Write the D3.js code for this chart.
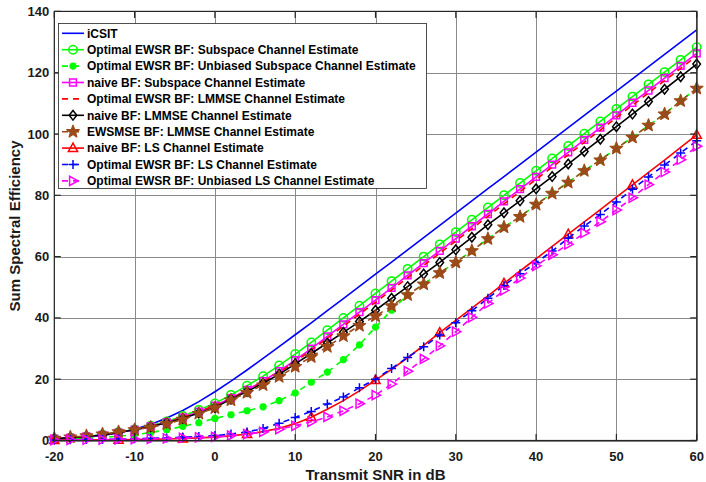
<!DOCTYPE html>
<html><head><meta charset="utf-8">
<script src="https://cdnjs.cloudflare.com/ajax/libs/d3/7.8.5/d3.min.js"></script>
<style>html,body{margin:0;padding:0;background:#fff;}svg{display:block;font-family:"Liberation Sans",Arial,sans-serif;}</style>
</head><body>
<svg id="chart" width="706" height="482"></svg>
<script>
// ---- data ----
const snr = [-20,-18,-16,-14,-12,-10,-8,-6,-4,-2,0,2,4,6,8,10,12,14,16,18,20,22,24,26,28,30,32,34,36,38,40,42,44,46,48,50,52,54,56,58,60];
const xTicks = [-20,-10,0,10,20,30,40,50,60];
const yTicks = [0,20,40,60,80,100,120,140];
const labels = [
  "iCSIT",
  "Optimal EWSR BF: Subspace Channel Estimate",
  "Optimal EWSR BF: Unbiased Subspace Channel Estimate",
  "naive BF: Subspace Channel Estimate",
  "Optimal EWSR BF: LMMSE Channel Estimate",
  "naive BF: LMMSE Channel Estimate",
  "EWSMSE BF: LMMSE Channel Estimate",
  "naive BF: LS Channel Estimate",
  "Optimal EWSR BF: LS Channel Estimate",
  "Optimal EWSR BF: Unbiased LS Channel Estimate"
];
const iCSIT = [0.45,0.70,1.08,1.65,2.49,3.67,5.26,7.31,9.80,12.69,15.91,19.37,23.0,26.77,30.6,34.5,38.4,42.4,46.3,50.3,54.3,58.2,62.2,66.2,70.2,74.2,78.2,82.2,86.1,90.1,94.1,98.1,102.1,106.1,110.1,114.0,118.0,122.0,126.0,130.0,134.0];
const ewsrSub = [0.6,0.9,1.3,1.9,2.7,3.6,4.8,6.2,8.0,10.0,12.1,14.9,17.9,21.0,24.5,28.2,32.0,36.0,40.0,44.0,48.0,52.0,56.0,60.0,64.0,68.0,72.0,76.0,80.0,84.0,88.0,92.0,96.1,100.1,104.1,108.2,112.2,116.2,120.2,124.2,128.3];
const ewsrUnbSub = [0.3,0.5,0.7,1.0,1.4,1.9,2.6,3.5,4.6,5.8,7.2,8.4,9.7,11.0,13.0,15.5,19.0,22.3,26.4,31.2,37.0,42.5,47.5,51.0,54.7,58.1,61.9,65.8,69.6,73.0,77.0,80.6,84.2,88.0,91.5,95.3,98.9,102.8,106.5,110.8,114.9];
const naiveSub = [0.6,0.9,1.3,1.8,2.6,3.5,4.6,5.9,7.5,9.4,11.4,13.8,16.5,19.4,22.6,26.2,30.0,34.0,37.9,41.9,45.8,49.8,53.9,57.9,61.9,65.9,69.9,73.9,78.0,82.0,86.0,90.0,94.0,98.1,102.1,106.1,110.2,114.2,118.2,122.2,126.3];
const ewsrLmmse = [0.6,0.9,1.3,1.8,2.6,3.5,4.6,5.9,7.5,9.4,11.4,13.7,16.3,19.1,22.2,25.7,29.5,33.4,37.3,41.2,45.1,49.1,53.1,57.1,61.1,65.1,69.1,73.1,77.2,81.2,85.2,89.2,93.2,97.3,101.3,105.3,109.4,113.4,117.4,121.4,125.5];
const naiveLmmse = [0.6,0.9,1.3,1.8,2.6,3.5,4.5,5.8,7.2,9.0,10.8,13.5,16.0,18.7,21.6,25.0,28.4,31.8,35.3,38.8,42.5,46.4,50.2,54.3,58.1,62.2,66.3,70.4,74.3,78.2,82.1,86.1,90.2,94.3,98.3,102.4,106.5,110.6,114.6,118.7,122.8];
const ewsmseLmmse = [0.7,1.1,1.5,2.1,2.8,3.5,4.3,5.4,6.9,8.8,10.6,13.2,15.6,18.1,20.8,24.1,27.3,30.6,34.1,37.5,40.6,43.9,47.5,51.0,54.7,58.1,61.9,65.8,69.6,73.0,77.0,80.6,84.2,88.0,91.5,95.3,98.9,102.8,106.5,110.8,114.9];
const naiveLs = [0.1,0.12,0.15,0.2,0.25,0.3,0.4,0.5,0.65,0.85,1.1,1.5,2.1,2.9,4.0,5.5,7.6,10.2,13.0,16.2,19.7,23.2,27.0,31.0,35.2,39.2,43.2,47.2,51.3,55.3,59.3,63.3,67.3,71.3,75.3,79.4,83.4,87.5,91.5,95.6,99.7];
const ewsrLs = [0.2,0.25,0.3,0.35,0.45,0.55,0.7,0.85,1.05,1.3,1.6,2.1,2.8,3.9,5.6,7.5,9.5,11.9,14.2,17.2,20.0,23.5,27.1,30.6,34.4,38.4,42.3,46.4,50.6,54.4,58.0,61.8,66.0,70.0,73.7,77.8,82.0,86.0,89.9,93.8,97.8];
const ewsrUnbLs = [0.15,0.2,0.25,0.3,0.35,0.45,0.55,0.7,0.85,1.0,1.2,1.6,2.1,2.8,3.7,4.8,6.1,7.7,9.7,12.0,14.8,18.4,22.6,26.6,30.9,35.5,40.2,44.7,49.0,53.0,57.0,60.6,64.0,67.7,71.4,75.2,79.2,83.5,87.6,91.6,96.0];

// ---- styles ----
const series = [
  {vals:iCSIT,       color:"#0000ff", dash:null,  marker:null,      every:1},
  {vals:ewsrSub,     color:"#00ff00", dash:null,  marker:"circle",  every:1},
  {vals:ewsrUnbSub,  color:"#00ff00", dash:"6,5", marker:"asterisk",every:1},
  {vals:naiveSub,    color:"#ff00ff", dash:null,  marker:"square",  every:1},
  {vals:ewsrLmmse,   color:"#ff0000", dash:"6,5", marker:null,      every:1},
  {vals:naiveLmmse,  color:"#000000", dash:null,  marker:"diamond", every:1},
  {vals:ewsmseLmmse, color:"#9c4a1a", dash:"6,5", marker:"star",    every:1},
  {vals:naiveLs,     color:"#ff0000", dash:null,  marker:"triangle",every:4},
  {vals:ewsrLs,      color:"#0000ff", dash:"6,5", marker:"plus",    every:1},
  {vals:ewsrUnbLs,   color:"#ff00ff", dash:"6,5", marker:"rtri",    every:1}
];
series.forEach((s,i)=>s.label=labels[i]);

const svg = d3.select("#chart");
const L=54.3, R=696.7, T=11.4, B=440.5;
const x = d3.scaleLinear().domain([-20,60]).range([L,R]);
const y = d3.scaleLinear().domain([0,140]).range([B,T]);

// grid
const g = svg.append("g");
g.selectAll(".vg").data(xTicks).join("line")
  .attr("x1",d=>Math.round(x(d))+0.5).attr("x2",d=>Math.round(x(d))+0.5)
  .attr("y1",T).attr("y2",B).attr("stroke","#8a8a8a").attr("stroke-width",1);
g.selectAll(".hg").data(yTicks).join("line")
  .attr("y1",d=>Math.round(y(d))+0.5).attr("y2",d=>Math.round(y(d))+0.5)
  .attr("x1",L).attr("x2",R).attr("stroke","#8a8a8a").attr("stroke-width",1);

function markerPath(type){
  switch(type){
    case "circle": return d3.symbol(d3.symbolCircle, Math.PI*4.2*4.2)();
    case "square": return "M-3.4,-3.4H3.4V3.4H-3.4Z";
    case "diamond": return "M0,-4.8L3.8,0L0,4.8L-3.8,0Z";
    case "triangle": return "M0,-5L4.6,3.4H-4.6Z";
    case "rtri": return "M5,0L-3.4,-4.6V4.6Z";
    case "plus": return "M-4.5,0H4.5M0,-4.5V4.5";
    case "asterisk": return "M-3.6,0H3.6M0,-3.6V3.6M-2.6,-2.6L2.6,2.6M-2.6,2.6L2.6,-2.6";
    case "star": {
      const pts=[]; const Ro=6.6, Ri=2.8;
      for(let k=0;k<10;k++){const r=k%2?Ri:Ro; const a=-Math.PI/2+k*Math.PI/5; pts.push([r*Math.cos(a),r*Math.sin(a)]);}
      return "M"+pts.map(p=>p[0].toFixed(2)+","+p[1].toFixed(2)).join("L")+"Z";
    }
  }
  return null;
}
function drawMarker(sel, type, color){
  const p = sel.append("path").attr("d", markerPath(type));
  if(type==="star"){ p.attr("fill",color).attr("stroke",color).attr("stroke-width",1.2).attr("stroke-linejoin","round"); }
  else if(type==="asterisk"){ p.attr("fill","none").attr("stroke",color).attr("stroke-width",2.4); }
  else { p.attr("fill","none").attr("stroke",color).attr("stroke-width",1.5); }
}

const line = d3.line().x(d=>x(d[0])).y(d=>y(d[1]));
const plot = svg.append("g");
series.forEach(s=>{
  const pts = snr.map((v,i)=>[v,s.vals[i]]);
  plot.append("path").attr("d", line(pts)).attr("fill","none")
    .attr("stroke", s.color).attr("stroke-width",1.6)
    .attr("stroke-dasharray", s.dash);
  if(s.marker){
    pts.filter((p,i)=>i % s.every===0).forEach(p=>{
      const m = plot.append("g").attr("transform",`translate(${x(p[0])},${y(p[1])})`);
      drawMarker(m, s.marker, s.color);
    });
  }
});

// axes box and ticks
const ax = svg.append("g").attr("fill","none").attr("stroke","#262626");
ax.append("rect").attr("x",L).attr("y",T).attr("width",R-L).attr("height",B-T).attr("stroke-width",1.2);
const tl=6.5;
xTicks.forEach(t=>{
  const xx=x(t);
  ax.append("line").attr("x1",xx).attr("x2",xx).attr("y1",B).attr("y2",B-tl).attr("stroke-width",1.2);
  ax.append("line").attr("x1",xx).attr("x2",xx).attr("y1",T).attr("y2",T+tl).attr("stroke-width",1.2);
});
yTicks.forEach(t=>{
  const yy=y(t);
  ax.append("line").attr("y1",yy).attr("y2",yy).attr("x1",L).attr("x2",L+tl).attr("stroke-width",1.2);
  ax.append("line").attr("y1",yy).attr("y2",yy).attr("x1",R).attr("x2",R-tl).attr("stroke-width",1.2);
});
// tick labels
svg.append("g").selectAll("text").data(xTicks).join("text")
  .attr("x",d=>x(d)).attr("y",461).attr("text-anchor","middle")
  .attr("font-size",13).attr("font-weight","bold").attr("fill","#1a1a1a").text(d=>d);
svg.append("g").selectAll("text").data(yTicks).join("text")
  .attr("x",L-5).attr("y",d=>y(d)+4.5).attr("text-anchor","end")
  .attr("font-size",13).attr("font-weight","bold").attr("fill","#1a1a1a").text(d=>d);
svg.append("text").attr("x",(L+R)/2).attr("y",480).attr("text-anchor","middle")
  .attr("font-size",15).attr("font-weight","bold").attr("fill","#1a1a1a").text("Transmit SNR in dB");
svg.append("text").attr("transform",`translate(20,${(T+B)/2}) rotate(-90)`).attr("text-anchor","middle")
  .attr("font-size",15).attr("font-weight","bold").attr("fill","#1a1a1a").text("Sum Spectral Efficiency");

// legend
const lg = svg.append("g");
lg.append("rect").attr("x",58.5).attr("y",23.5).attr("width",368).attr("height",165)
  .attr("fill","#fff").attr("stroke","#262626").attr("stroke-width",0.8);
series.forEach((s,i)=>{
  const yy = 33.3 + i*16.4;
  lg.append("line").attr("x1",62).attr("x2",84).attr("y1",yy).attr("y2",yy)
    .attr("stroke",s.color).attr("stroke-width",1.6).attr("stroke-dasharray",s.dash);
  if(s.marker){ const m=lg.append("g").attr("transform",`translate(73,${yy})`); drawMarker(m,s.marker,s.color); }
  lg.append("text").attr("x",87).attr("y",yy+4.3).attr("font-size",12).attr("font-weight","bold")
    .attr("fill","#000").text(s.label);
});
</script>
</body></html>
